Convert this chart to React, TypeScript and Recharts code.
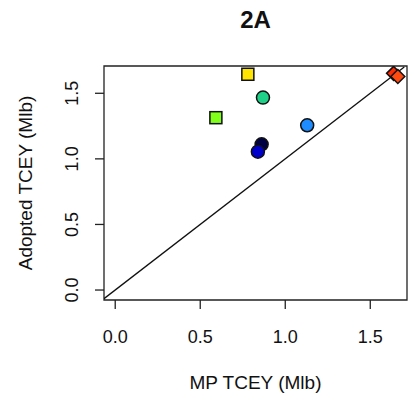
import { ScatterChart, Scatter, XAxis, YAxis, ReferenceLine, ReferenceArea, Label } from 'recharts'

const mpTcey = [0.78, 0.592, 0.869, 1.129, 0.861, 0.839, 1.637, 1.662]
const adoptedTcey = [1.645, 1.314, 1.467, 1.256, 1.111, 1.055, 1.652, 1.628]
const pointColors = ['#ffe500', '#80ff1a', '#1ed088', '#1e8cff', '#000044', '#0000cc', '#ff2a00', '#ff4a10']
const pointShapes = ['square', 'square', 'circle', 'circle', 'circle', 'circle', 'diamond', 'diamond']

const xTicks = [0, 0.5, 1.0, 1.5]
const yTicks = [0, 0.5, 1.0, 1.5]
const xDomain = [-0.066, 1.716]
const yDomain = [-0.076, 1.708]

const data = mpTcey.map((x, i) => ({ x, y: adoptedTcey[i], fill: pointColors[i], kind: pointShapes[i] }))

const FONT = '"Liberation Sans", Arial, sans-serif'

const PointShape = (props: any) => {
  const { cx, cy, payload } = props
  if (payload.kind === 'square') {
    return <rect x={cx - 6} y={cy - 6} width={12} height={12} fill={payload.fill} stroke="#111" strokeWidth={1.5} />
  }
  if (payload.kind === 'diamond') {
    const r = 7
    return (
      <polygon
        points={`${cx},${cy - r} ${cx + r},${cy} ${cx},${cy + r} ${cx - r},${cy}`}
        fill={payload.fill}
        stroke="#111"
        strokeWidth={1.5}
      />
    )
  }
  return <circle cx={cx} cy={cy} r={6.5} fill={payload.fill} stroke="#111" strokeWidth={1.5} />
}

const XTick = ({ x, y, payload }: any) => (
  <text x={x} y={y + 32} textAnchor="middle" fontSize={18} fontFamily={FONT} fill="#111">
    {payload.value.toFixed(1)}
  </text>
)

const YTick = ({ x, y, payload }: any) => (
  <text
    x={x - 15}
    y={y}
    transform={`rotate(-90 ${x - 15} ${y})`}
    textAnchor="middle"
    fontSize={18}
    fontFamily={FONT}
    fill="#111"
  >
    {payload.value.toFixed(1)}
  </text>
)

export default function App() {
  return (
    <div style={{ position: 'relative', width: 408, height: 393, background: '#fff' }}>
      <style>{`body { margin: 0; }`}</style>
      <ScatterChart width={408} height={393} margin={{ top: 66, right: 1, bottom: 0, left: 0 }}>
        <XAxis
          type="number"
          dataKey="x"
          domain={xDomain}
          ticks={xTicks}
          allowDataOverflow
          height={93}
          axisLine={false}
          tickLine={{ stroke: '#222', strokeWidth: 1.3 }}
          tickSize={9}
          tick={<XTick />}
        >
          <Label
            content={() => (
              <text x={255.5} y={389} textAnchor="middle" fontSize={19} fontFamily={FONT} fill="#111">
                MP TCEY (Mlb)
              </text>
            )}
          />
        </XAxis>
        <YAxis
          type="number"
          dataKey="y"
          domain={yDomain}
          ticks={yTicks}
          allowDataOverflow
          width={104}
          axisLine={false}
          tickLine={{ stroke: '#222', strokeWidth: 1.3 }}
          tickSize={9}
          tick={<YTick />}
        >
          <Label
            content={() => (
              <text
                x={32}
                y={183}
                transform="rotate(-90 32 183)"
                textAnchor="middle"
                fontSize={19}
                fontFamily={FONT}
                fill="#111"
              >
                Adopted TCEY (Mlb)
              </text>
            )}
          />
        </YAxis>
        <ReferenceArea
          x1={xDomain[0]}
          x2={xDomain[1]}
          y1={yDomain[0]}
          y2={yDomain[1]}
          fill="none"
          fillOpacity={0}
          stroke="#222"
          strokeWidth={1.3}
          ifOverflow="visible"
        />
        <ReferenceLine
          segment={[
            { x: xDomain[0], y: xDomain[0] },
            { x: 1.7, y: 1.7 },
          ]}
          stroke="#111"
          strokeWidth={1.3}
          ifOverflow="hidden"
        />
        <Scatter data={data} shape={<PointShape />} isAnimationActive={false} />
      </ScatterChart>
      <div
        style={{
          position: 'absolute',
          left: 0,
          top: 6,
          width: 511,
          textAlign: 'center',
          fontFamily: FONT,
          fontWeight: 'bold',
          fontSize: 24,
          color: '#111',
        }}
      >
        2A
      </div>
    </div>
  )
}
